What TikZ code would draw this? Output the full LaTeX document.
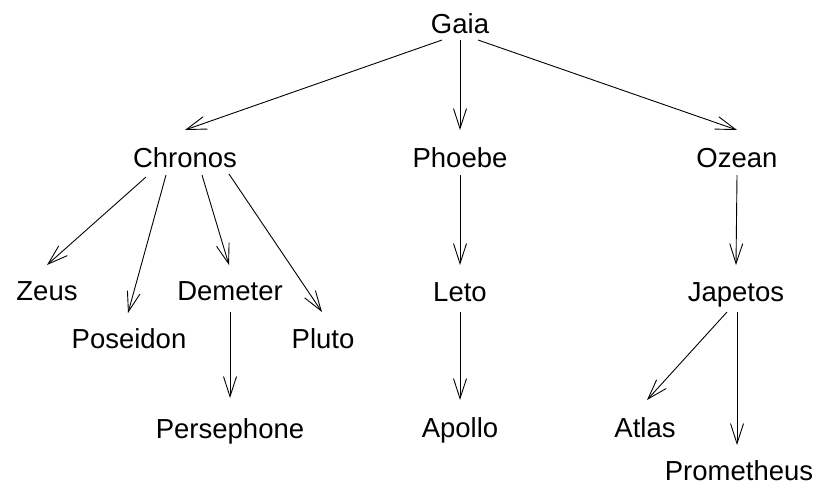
\documentclass[tikz,border=0pt]{standalone}
\usepackage{fontspec}
\setmainfont{Liberation Sans}
\usetikzlibrary{arrows.meta}
\begin{document}
\begin{tikzpicture}[x=1pt,y=-1pt,
  lbl/.style={anchor=base,inner sep=0pt,font=\fontsize{27.5}{30}\selectfont},
  arr/.style={line width=0.9pt,-{Straight Barb[length=20pt,width=13pt,line width=0.9pt]}}]
\useasboundingbox (0,0) rectangle (816,488);
\node[lbl] (gaia) at (460,33) {Gaia};
\node[lbl] (chronos) at (185,167) {Chronos};
\node[lbl] (phoebe) at (460,167) {Phoebe};
\node[lbl] (ozean) at (737,167) {Ozean};
\node[lbl] (zeus) at (47,300) {Zeus};
\node[lbl] (demeter) at (230,300) {Demeter};
\node[lbl] (poseidon) at (129,348) {Poseidon};
\node[lbl] (pluto) at (323,348) {Pluto};
\node[lbl] (leto) at (460,301) {Leto};
\node[lbl] (japetos) at (736,301) {Japetos};
\node[lbl] (persephone) at (230,438) {Persephone};
\node[lbl] (apollo) at (460,437) {Apollo};
\node[lbl] (atlas) at (645,437) {Atlas};
\node[lbl] (prometheus) at (739,480) {Prometheus};
\draw[arr] ([shift={(-18,7)}]gaia.base) -- ([shift={(0,-37)}]chronos.base);
\draw[arr] ([shift={(0,7)}]gaia.base) -- ([shift={(0,-37)}]phoebe.base);
\draw[arr] ([shift={(18,7)}]gaia.base) -- ([shift={(0,-37)}]ozean.base);
\draw[arr] ([shift={(-39,10)}]chronos.base) -- ([shift={(0,-35)}]zeus.base);
\draw[arr] ([shift={(-19,8)}]chronos.base) -- ([shift={(-1,-35)}]poseidon.base);
\draw[arr] ([shift={(17,8)}]chronos.base) -- ([shift={(-1,-35)}]demeter.base);
\draw[arr] ([shift={(44,7)}]chronos.base) -- ([shift={(-1,-36)}]pluto.base);
\draw[arr] ([shift={(0,8)}]phoebe.base) -- ([shift={(0,-36)}]leto.base);
\draw[arr] ([shift={(0,8)}]ozean.base) -- ([shift={(0,-36)}]japetos.base);
\draw[arr] ([shift={(0,12)}]demeter.base) -- ([shift={(0,-40)}]persephone.base);
\draw[arr] ([shift={(0,11)}]leto.base) -- ([shift={(0,-37)}]apollo.base);
\draw[arr] ([shift={(-9,11)}]japetos.base) -- ([shift={(2,-37)}]atlas.base);
\draw[arr] ([shift={(1,11)}]japetos.base) -- ([shift={(-2,-35)}]prometheus.base);
\end{tikzpicture}
\end{document}
